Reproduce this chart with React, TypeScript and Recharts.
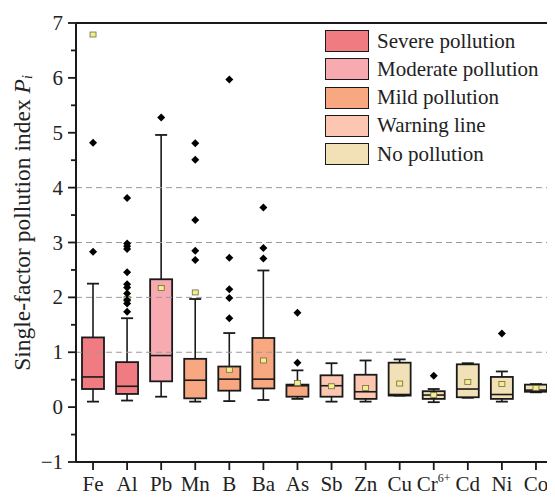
import { ComposedChart, Bar, Scatter, XAxis, YAxis, ReferenceLine, Legend } from 'recharts';

const elements = ['Fe', 'Al', 'Pb', 'Mn', 'B', 'Ba', 'As', 'Sb', 'Zn', 'Cu', 'Cr6+', 'Cd', 'Ni', 'Co'];
const whiskerLow = [0.1, 0.12, 0.19, 0.1, 0.11, 0.13, 0.15, 0.1, 0.1, 0.21, 0.09, 0.17, 0.1, 0.27];
const quartile1 = [0.33, 0.24, 0.47, 0.16, 0.3, 0.34, 0.19, 0.19, 0.15, 0.21, 0.15, 0.18, 0.15, 0.28];
const medians = [0.55, 0.38, 0.94, 0.49, 0.51, 0.51, 0.39, 0.39, 0.28, 0.23, 0.22, 0.33, 0.23, 0.31];
const quartile3 = [1.27, 0.82, 2.33, 0.88, 0.74, 1.26, 0.41, 0.58, 0.59, 0.81, 0.29, 0.78, 0.55, 0.41];
const whiskerHigh = [2.25, 1.62, 4.96, 1.97, 1.35, 2.49, 0.67, 0.8, 0.85, 0.87, 0.33, 0.8, 0.65, 0.42];
const means = [6.79, 1.97, 2.17, 2.09, 0.68, 0.85, 0.44, 0.38, 0.35, 0.43, 0.22, 0.46, 0.42, 0.35];
const outliers: number[][] = [
  [2.83, 4.82],
  [3.81, 2.98, 2.93, 2.88, 2.46, 2.24, 2.18, 2.07, 1.95, 1.89, 1.74],
  [5.28],
  [4.81, 4.51, 3.41, 2.85, 2.68],
  [5.97, 2.72, 2.15, 1.99, 1.62],
  [3.64, 2.9, 2.71],
  [1.72, 0.81],
  [],
  [],
  [],
  [0.57],
  [],
  [1.34],
  [],
];

const pollutionLevels = ['Severe pollution', 'Moderate pollution', 'Mild pollution', 'Warning line', 'No pollution'];
const levelColors = ['#F07C82', '#F7AAB0', '#F7A880', '#FCC6B0', '#F2E1B7'];
const elementLevel = [0, 0, 1, 2, 2, 2, 2, 3, 3, 4, 4, 4, 4, 4];

const yDomain = [-1, 7];
const yTicks = [-1, -0.5, 0, 0.5, 1, 1.5, 2, 2.5, 3, 3.5, 4, 4.5, 5, 5.5, 6, 6.5, 7];
const gridValues = [1, 2, 3, 4];

const FONT = 'Liberation Serif, Tinos, Times New Roman, DejaVu Serif, serif';
const INK = '#1a1a1a';

const maxOutliers = Math.max(...outliers.map((o) => o.length));
const outlierKeys = Array.from({ length: maxOutliers }, (_, k) => `o${k}`);

const data = elements.map((name, i) => {
  const row: Record<string, any> = {
    name,
    low: whiskerLow[i],
    q1: quartile1[i],
    median: medians[i],
    q3: quartile3[i],
    high: whiskerHigh[i],
    mean: means[i],
    fill: levelColors[elementLevel[i]],
  };
  outliers[i].forEach((v, k) => {
    row[`o${k}`] = v;
  });
  return row;
});

function BoxShape(props: any) {
  const { x, y, width, height, payload } = props;
  if (x == null || y == null) return <g />;
  const top = Math.min(y, y + height);
  const h = Math.abs(height);
  const { low, high, q1, q3, median, fill } = payload;
  const k = h / (high - low);
  const py = (v: number) => top + (high - v) * k;
  const cx = x + width / 2;
  const cap = 6;
  return (
    <g>
      <line x1={cx} x2={cx} y1={py(high)} y2={py(q3)} stroke={INK} strokeWidth={1.6} />
      <line x1={cx} x2={cx} y1={py(q1)} y2={py(low)} stroke={INK} strokeWidth={1.6} />
      <line x1={cx - cap} x2={cx + cap} y1={py(high)} y2={py(high)} stroke={INK} strokeWidth={1.8} />
      <line x1={cx - cap} x2={cx + cap} y1={py(low)} y2={py(low)} stroke={INK} strokeWidth={1.8} />
      <rect x={x} y={py(q3)} width={width} height={Math.max(py(q1) - py(q3), 1)} fill={fill} stroke={INK} strokeWidth={1.8} />
      <line x1={x} x2={x + width} y1={py(median)} y2={py(median)} stroke={INK} strokeWidth={1.6} />
    </g>
  );
}

function Diamond(props: any) {
  const { cx, cy } = props;
  if (cx == null || cy == null || Number.isNaN(cy)) return <g />;
  return <path d={`M${cx},${cy - 4} L${cx + 4},${cy} L${cx},${cy + 4} L${cx - 4},${cy} Z`} fill="#000" />;
}

function MeanMark(props: any) {
  const { cx, cy } = props;
  if (cx == null || cy == null || Number.isNaN(cy)) return <g />;
  return <rect x={cx - 3} y={cy - 2.5} width={6} height={5} fill="#F3EE86" stroke="#6b6a50" strokeWidth={0.8} />;
}

function YTick(props: any) {
  const { x, y, payload } = props;
  const v = payload.value;
  if (!Number.isInteger(v)) return <g />;
  return (
    <text x={x} y={y} textAnchor="end" dominantBaseline="central" fontFamily={FONT} fontSize={21} fill="#222">
      {v < 0 ? `\u2212${Math.abs(v)}` : v}
    </text>
  );
}

function XTick(props: any) {
  const { x, y, payload } = props;
  const label: string = payload.value;
  const sup = label.endsWith('6+');
  return (
    <text x={x} y={y + 21} textAnchor="middle" fontFamily={FONT} fontSize={21} fill="#222">
      {sup ? (
        <>
          Cr
          <tspan dy={-9} fontSize={12}>6+</tspan>
        </>
      ) : (
        label
      )}
    </text>
  );
}

// y axis: rotated title plus the outward tick marks, laid out in the axis box
function YAxisDecor(props: any) {
  const vb = props.viewBox || {};
  const right = (vb.x ?? 0) + (vb.width ?? 68);
  const top = vb.y ?? 15;
  const h = vb.height ?? 439;
  const py = (v: number) => top + ((yDomain[1] - v) / (yDomain[1] - yDomain[0])) * h;
  const cx = 14;
  const cy = 215;
  return (
    <g>
      {yTicks.map((v) => {
        const len = Number.isInteger(v) ? 8 : 5;
        return <rect key={v} x={right - len} y={py(v) - 0.9} width={len} height={1.8} fill={INK} />;
      })}
      <text x={cx} y={cy} transform={`rotate(-90 ${cx} ${cy})`} textAnchor="middle" dominantBaseline="central" fontFamily={FONT} fontSize={23.5} fill="#222">
        Single-factor pollution index <tspan fontStyle="italic">P</tspan>
        <tspan fontStyle="italic" fontSize={14} dy={5}>i</tspan>
      </text>
    </g>
  );
}

// x axis: outward tick marks at each category centre
function XAxisDecor(props: any) {
  const vb = props.viewBox || {};
  const left = vb.x ?? 68;
  const w = vb.width ?? 477;
  const top = vb.y ?? 454;
  const band = w / elements.length;
  return (
    <g>
      {elements.map((name, i) => (
        <rect key={name} x={left + band * (i + 0.5) - 0.9} y={top} width={1.8} height={8} fill={INK} />
      ))}
    </g>
  );
}

function LegendBox() {
  return (
    <div style={{ fontFamily: FONT, fontSize: 21, color: '#222' }}>
      {pollutionLevels.map((name, i) => (
        <div key={name} style={{ display: 'flex', alignItems: 'center', height: 28.25 }}>
          <div style={{ width: 42, height: 20, background: levelColors[i], border: `1.5px solid ${INK}`, marginRight: 8, flexShrink: 0 }} />
          <span style={{ whiteSpace: 'nowrap' }}>{name}</span>
        </div>
      ))}
    </div>
  );
}

export default function App() {
  return (
    <div style={{ marginBottom: -8, fontFamily: FONT }}>
      <ComposedChart width={547} height={491} data={data} margin={{ top: 15, right: 0, bottom: 0, left: 0 }}>
        <XAxis
          dataKey="name"
          interval={0}
          tickSize={8}
          tickMargin={0}
          tickLine={false}
          height={37}
          axisLine={{ stroke: INK, strokeWidth: 2 }}
          tick={<XTick />}
          label={{ content: (p: any) => <XAxisDecor {...p} /> }}
        />
        <YAxis
          type="number"
          domain={yDomain}
          ticks={yTicks}
          interval={0}
          allowDataOverflow
          tickSize={8}
          tickMargin={5}
          tickLine={false}
          width={68}
          axisLine={{ stroke: INK, strokeWidth: 2 }}
          tick={<YTick />}
          label={{ content: (p: any) => <YAxisDecor {...p} /> }}
        />
        <YAxis yAxisId="r" orientation="right" width={2} domain={yDomain} tick={false} tickLine={false} axisLine={{ stroke: '#d6d6d6', strokeWidth: 1 }} />
        {gridValues.map((v) => (
          <ReferenceLine key={v} y={v} stroke="#9a9a9a" strokeDasharray="6 4" strokeWidth={1} />
        ))}
        <ReferenceLine y={7} stroke={INK} strokeWidth={2} />
        <Legend
          layout="vertical"
          align="center"
          verticalAlign="middle"
          wrapperStyle={{ top: 19, left: 317, width: 235, height: 145 }}
          content={() => <LegendBox />}
        />
        <Bar dataKey={(d: any) => [d.low, d.high]} barSize={22} shape={<BoxShape />} isAnimationActive={false} />
        <Scatter dataKey="mean" shape={<MeanMark />} isAnimationActive={false} />
        {outlierKeys.map((key) => (
          <Scatter key={key} dataKey={key} shape={<Diamond />} isAnimationActive={false} />
        ))}
      </ComposedChart>
    </div>
  );
}
